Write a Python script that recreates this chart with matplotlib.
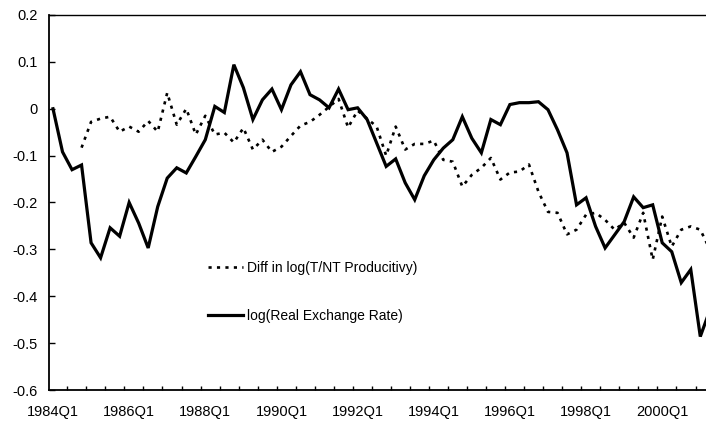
import numpy as np
import matplotlib
matplotlib.use("Agg")
import matplotlib.pyplot as plt
from matplotlib.ticker import FixedLocator

plt.rcParams['font.family'] = ['Liberation Sans', 'DejaVu Sans']

# quarterly sample, 1984Q1 .. 2001Q2
years = np.arange(1984, 2002)
quarters = [f"{y}Q{q}" for y in years for q in range(1, 5)][:70]

# log(Real Exchange Rate)
rer = [0.000, -0.092, -0.130, -0.120, -0.286, -0.318, -0.254, -0.272,
       -0.200, -0.244, -0.297, -0.209, -0.148, -0.126, -0.137, -0.102,
       -0.066, 0.005, -0.008, 0.094, 0.045, -0.023, 0.019, 0.042,
       -0.002, 0.051, 0.079, 0.030, 0.019, 0.002, 0.042, -0.002,
       0.002, -0.023, -0.073, -0.123, -0.107, -0.158, -0.194, -0.143,
       -0.109, -0.084, -0.066, -0.017, -0.063, -0.094, -0.023, -0.034,
       0.009, 0.013, 0.013, 0.015, -0.002, -0.045, -0.094, -0.205,
       -0.190, -0.251, -0.297, -0.269, -0.241, -0.188, -0.211, -0.205,
       -0.286, -0.305, -0.371, -0.343, -0.486, -0.430]

# Diff in log(T/NT productivity), starts 1984Q4
prod = [np.nan, np.nan, np.nan, -0.083, -0.028, -0.021, -0.017, -0.049,
        -0.038, -0.049, -0.026, -0.049, 0.034, -0.034, 0.000, -0.055,
        -0.015, -0.055, -0.051, -0.072, -0.041, -0.087, -0.066, -0.092,
        -0.081, -0.058, -0.036, -0.028, -0.013, 0.004, 0.021, -0.040,
        -0.004, -0.021, -0.038, -0.100, -0.038, -0.087, -0.075, -0.075,
        -0.068, -0.109, -0.113, -0.166, -0.141, -0.126, -0.105, -0.151,
        -0.136, -0.134, -0.119, -0.177, -0.220, -0.222, -0.268, -0.258,
        -0.226, -0.222, -0.237, -0.258, -0.243, -0.275, -0.222, -0.322,
        -0.230, -0.294, -0.258, -0.251, -0.258, -0.300]

yticks = [0.2, 0.1, 0, -0.1, -0.2, -0.3, -0.4, -0.5, -0.6]
ytick_labels = ['0.2', '0.1', '0', '-0.1', '-0.2', '-0.3', '-0.4', '-0.5', '-0.6']

x = np.arange(len(quarters))

fig = plt.figure(figsize=(7.06, 4.23), dpi=100)
ax = fig.add_axes([49 / 706, 33 / 423, 657 / 706, 375 / 423])

ax.plot(x, prod, color='black', lw=1.9, linestyle=(0, (1.2, 2.0)),
        label='Diff in log(T/NT Producitivy)')
ax.plot(x, rer, color='black', lw=2.3, solid_joinstyle='miter',
        label='log(Real Exchange Rate)')

ax.set_xlim(-0.42, 68.6)
ax.set_ylim(-0.6, 0.2)

ax.set_yticks(yticks)
ax.set_yticklabels(ytick_labels)
ax.tick_params(axis='y', direction='in', length=4, width=1, pad=8, labelsize=10.5)

major = x[::8]
ax.set_xticks(major)
ax.set_xticklabels([quarters[i] for i in major])
ax.xaxis.set_minor_locator(FixedLocator(np.arange(-0.5, 69, 2)))
ax.tick_params(axis='x', which='major', length=0, pad=11, labelsize=10.5)
ax.tick_params(axis='x', which='minor', direction='in', length=3, width=1)

ax.spines['right'].set_visible(False)
ax.spines['top'].set_linestyle((0, (1, 1)))
ax.spines['top'].set_linewidth(1.0)
ax.spines['left'].set_linewidth(1.3)
ax.spines['bottom'].set_linewidth(1.3)

ax.legend(loc='upper left', bbox_to_anchor=(0.242, 0.345), frameon=False,
          fontsize=10, handlelength=2.5, handletextpad=0.3, labelspacing=2.5,
          borderpad=0, borderaxespad=0)

fig.savefig('out.png', dpi=100)
